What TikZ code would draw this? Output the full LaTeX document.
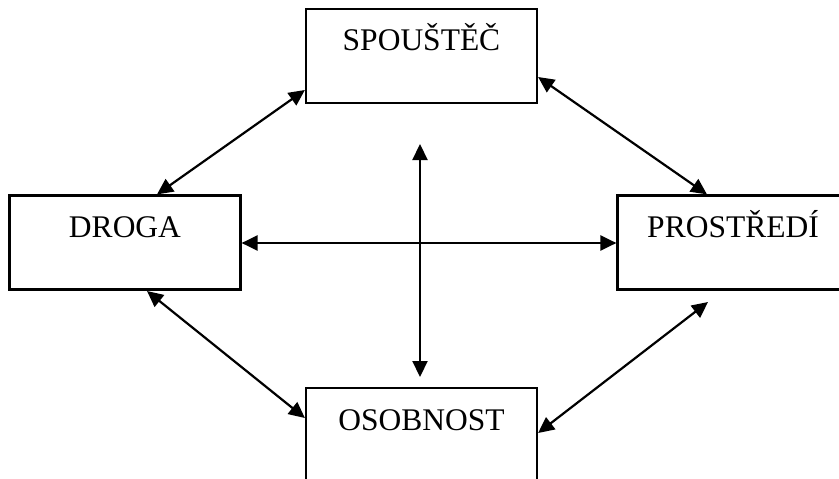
\documentclass[tikz,border=0pt]{standalone}
\usepackage{fontspec}
\setmainfont{Liberation Serif}
\usetikzlibrary{arrows.meta}
\begin{document}
\begin{tikzpicture}[x=1pt,y=-1pt,
  box/.style={draw, line width=2.2pt, minimum width=231pt, minimum height=94pt, inner sep=0pt},
  lbl/.style={anchor=base, inner sep=0pt, font=\fontsize{31.5}{36}\selectfont},
  link/.style={line width=2.2pt, {Triangle[length=16pt,width=15pt]}-{Triangle[length=16pt,width=15pt]}}]
\clip (0,0) rectangle (839,479);
% boxes
\node[box] (sp) at (421.5,56) {};
\node[box] (dr) at (125,242.5) {};
\node[box] (pr) at (733,242.5) {};
\node[box] (os) at (421.5,435) {};
% labels
\node[lbl] (tsp) at (421.5,50) {SPOUŠTĚČ};
\node[lbl] (tdr) at (125,237) {DROGA};
\node[lbl] (tpr) at (733,237) {PROSTŘEDÍ};
\node[lbl] (tos) at (421.5,430) {OSOBNOST};
% end points
\coordinate (spw) at (sp.west |- 0,90);
\coordinate (drn) at (157, 0 |- dr.north);
\coordinate (spe) at (sp.east |- 0,77);
\coordinate (prn) at (707, 0 |- pr.north);
\coordinate (dre) at (dr.east |- 0,243);
\coordinate (prw) at (pr.west |- 0,243);
\coordinate (vt) at (420,144);
\coordinate (vb) at (420,377);
\coordinate (drs) at (147,291);
\coordinate (osw) at (os.west |- 0,418);
\coordinate (prs) at (708,302);
\coordinate (ose) at (os.east |- 0,433);
% connectors
\draw[link] (spw) -- (drn);
\draw[link] (spe) -- (prn);
\draw[link] (dre) -- (prw);
\draw[link] (vt) -- (vb);
\draw[link] (drs) -- (osw);
\draw[link] (prs) -- (ose);
\end{tikzpicture}
\end{document}
